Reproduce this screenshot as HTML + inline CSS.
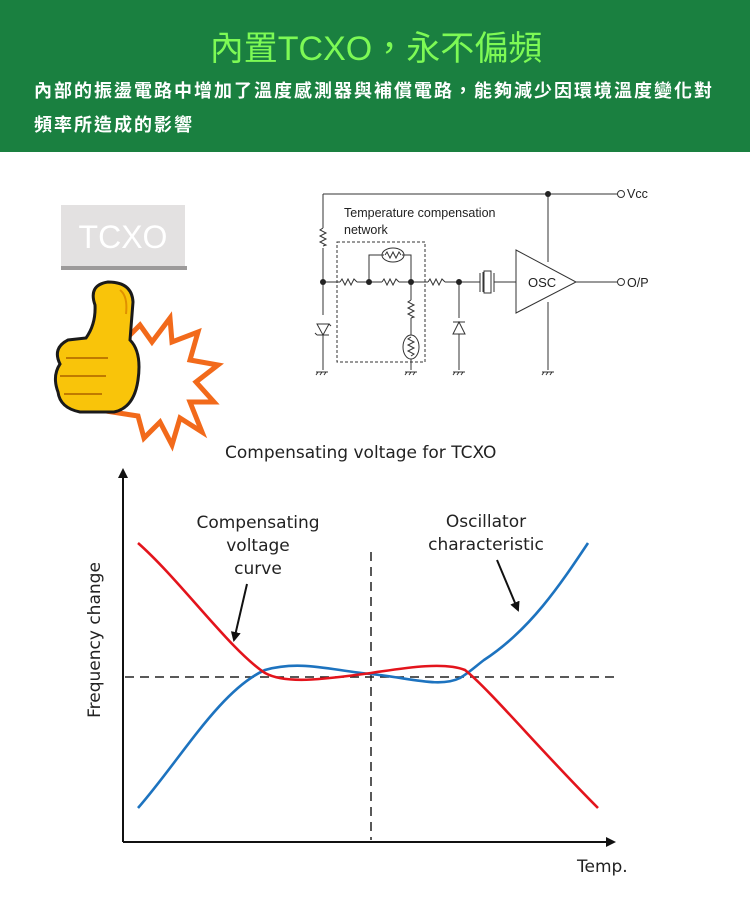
<!DOCTYPE html>
<html><head><meta charset="utf-8"><style>
html,body{margin:0;padding:0;background:#fff;}
svg{display:block}
</style></head><body>
<svg width="750" height="900" viewBox="0 0 750 900" xmlns="http://www.w3.org/2000/svg">
<defs>
<marker id="ah" markerWidth="10" markerHeight="10" refX="8" refY="5" orient="auto" markerUnits="userSpaceOnUse"><path d="M0,0 L10,5 L0,10 Z" fill="#111"/></marker>
</defs>
<rect x="0" y="0" width="750" height="152" fill="#1a8040"/>
<text x="376" y="60" text-anchor="middle" font-family="Liberation Sans, Noto Sans CJK TC, sans-serif" font-size="34" fill="#7dfa55">內置TCXO，永不偏頻</text>
<text x="34" y="97" font-family="Liberation Sans, Noto Sans CJK TC, sans-serif" font-size="18" letter-spacing="2.0" font-weight="bold" fill="#fff">內部的振盪電路中增加了溫度感測器與補償電路，能夠減少因環境溫度變化對</text>
<text x="34" y="131" font-family="Liberation Sans, Noto Sans CJK TC, sans-serif" font-size="18" letter-spacing="2.0" font-weight="bold" fill="#fff">頻率所造成的影響</text>

<rect x="61" y="205" width="124" height="62" fill="#e3e1e1"/>
<rect x="61" y="266" width="126" height="4" fill="#9c9a9a"/>
<text x="123" y="248" text-anchor="middle" font-family="Liberation Sans, sans-serif" font-size="32" fill="#fff">TCXO</text>

<polygon points="125,340 140,325 152,342 170,318 172,342 198,332 190,360 218,365 196,382 214,402 190,402 202,432 180,418 172,445 160,422 144,438 138,416 112,412 130,396 106,380 128,370 112,352" fill="#fff" stroke="#f26a1b" stroke-width="5" stroke-linejoin="miter"/>
<path d="M95,305 Q88,285 108,282 Q132,282 133,302 L130,340 Q142,352 138,380 Q134,408 114,412 L80,412 Q60,408 58,392 Q52,376 60,364 Q52,348 68,340 L86,338 Q96,324 95,305 Z" fill="#f9c40a" stroke="#1a1a1a" stroke-width="3"/>
<path d="M66,358 L108,358 M60,376 L106,376 M64,394 L102,394" stroke="#c07a00" stroke-width="2" fill="none"/>
<path d="M120,290 Q128,296 126,314" stroke="#e09000" stroke-width="2" fill="none"/>

<g stroke="#333" stroke-width="1" fill="none" font-family="Liberation Sans, sans-serif">
<path d="M323,194 L618,194"/>
<circle cx="621" cy="194" r="3.5"/>
<path d="M323,194 L323,228 M323,248 L323,282"/>
<path d="M323,228 l-3,2 l6,3 l-6,3 l6,3 l-6,3 l6,3 l-3,1"/>
<path d="M548,194 L548,262 M548,302 L548,370"/>
<path d="M323,282 L340,282 M357,282 L369,282 L382,282 M399,282 L411,282 L428,282 M445,282 L459,282 L479,282"/>
<path d="M340,282 l2,-3 l3,6 l3,-6 l3,6 l3,-6 l3,3" />
<path d="M382,282 l2,-3 l3,6 l3,-6 l3,6 l3,-6 l3,3" />
<path d="M428,282 l2,-3 l3,6 l3,-6 l3,6 l3,-6 l3,3" />
<path d="M369,282 L369,255 L384,255 M402,255 L411,255 L411,282"/>
<ellipse cx="393" cy="255" rx="11" ry="7"/>
<path d="M385,255 l2,-3 l3,6 l3,-6 l3,6 l3,-6 l2,3"/>
<path d="M411,282 L411,300 M411,318 L411,335"/>
<path d="M411,300 l-3,2 l6,3 l-6,3 l6,3 l-6,3 l6,3 l-3,1"/>
<ellipse cx="411" cy="347" rx="8" ry="12"/>
<path d="M411,337 l-3,2 l6,3 l-6,3 l6,3 l-6,3 l6,3 l-3,2 M411,359 L411,370"/>
<rect x="337" y="242" width="88" height="120" stroke-dasharray="3,2"/>
<path d="M323,282 L323,315 M323,335 L323,370"/>
<path d="M317,324 L329,324 L323,335 Z M317,335 L329,335 M317,335 l-2,-2 M329,324 l2,2"/>
<path d="M459,282 L459,318 M459,334 L459,370"/>
<path d="M453,322 L465,322 M453,334 L465,334 L459,322 Z"/>
<path d="M479,282 L480,282 M480,273 L480,292 M483,272 L483,292 M484,271 L491,271 L491,293 L484,293 Z M494,273 L494,292 M494,282 L516,282"/>
<polygon points="516,250 516,313 576,282"/>
<path d="M576,282 L618,282"/>
<circle cx="621" cy="282" r="3.5"/>
<path d="M318,372 l-2,3 M322,372 l-2,3 M326,372 l-2,3 M316,372 L328,372"/>
<path d="M405,372 L417,372 M407,372 l-2,3 M411,372 l-2,3 M415,372 l-2,3"/>
<path d="M453,372 L465,372 M455,372 l-2,3 M459,372 l-2,3 M463,372 l-2,3"/>
<path d="M542,372 L554,372 M544,372 l-2,3 M548,372 l-2,3 M552,372 l-2,3"/>
</g>
<g fill="#222">
<circle cx="548" cy="194" r="3"/><circle cx="323" cy="282" r="3"/><circle cx="369" cy="282" r="3"/><circle cx="411" cy="282" r="3"/><circle cx="459" cy="282" r="3"/>
</g>
<g font-family="Liberation Sans, sans-serif" font-size="12.5" fill="#222">
<text x="344" y="217">Temperature compensation</text>
<text x="344" y="234">network</text>
<text x="528" y="287" font-size="13">OSC</text>
<text x="627" y="198">Vcc</text>
<text x="627" y="287">O/P</text>
</g>

<g font-family="DejaVu Sans, Liberation Sans, sans-serif" fill="#222">
<text x="225" y="458" font-size="17">Compensating voltage for TCXO</text>
<text x="258" y="528" font-size="17" text-anchor="middle">Compensating</text>
<text x="258" y="551" font-size="17" text-anchor="middle">voltage</text>
<text x="258" y="574" font-size="17" text-anchor="middle">curve</text>
<text x="486" y="527" font-size="17" text-anchor="middle">Oscillator</text>
<text x="486" y="550" font-size="17" text-anchor="middle">characteristic</text>
<text x="577" y="872" font-size="17">Temp.</text>
<text transform="translate(100,640) rotate(-90)" font-size="17" text-anchor="middle">Frequency change</text>
</g>
<path d="M123,842 L123,470" stroke="#111" stroke-width="2" marker-end="url(#ah)"/>
<path d="M123,842 L614,842" stroke="#111" stroke-width="2" marker-end="url(#ah)"/>
<path d="M125,677 L618,677" stroke="#222" stroke-width="1.5" stroke-dasharray="9,6"/>
<path d="M371,552 L371,840" stroke="#222" stroke-width="1.5" stroke-dasharray="9,6"/>
<path d="M247,584 L234,640" stroke="#111" stroke-width="2" marker-end="url(#ah)"/>
<path d="M497,560 L518,610" stroke="#111" stroke-width="2" marker-end="url(#ah)"/>
<path d="M138,808 C180,760 220,690 265,670 C300,660 330,670 371,674 C410,678 440,688 460,678 C470,672 476,666 484,660 C530,630 560,585 588,543" stroke="#1d73bf" stroke-width="2.6" fill="none"/>
<path d="M138,543 C180,580 230,650 265,673 C285,684 320,680 371,673 C410,667 445,662 465,670 C490,690 540,750 598,808" stroke="#e3141c" stroke-width="2.6" fill="none"/>
</svg>
</body></html>
